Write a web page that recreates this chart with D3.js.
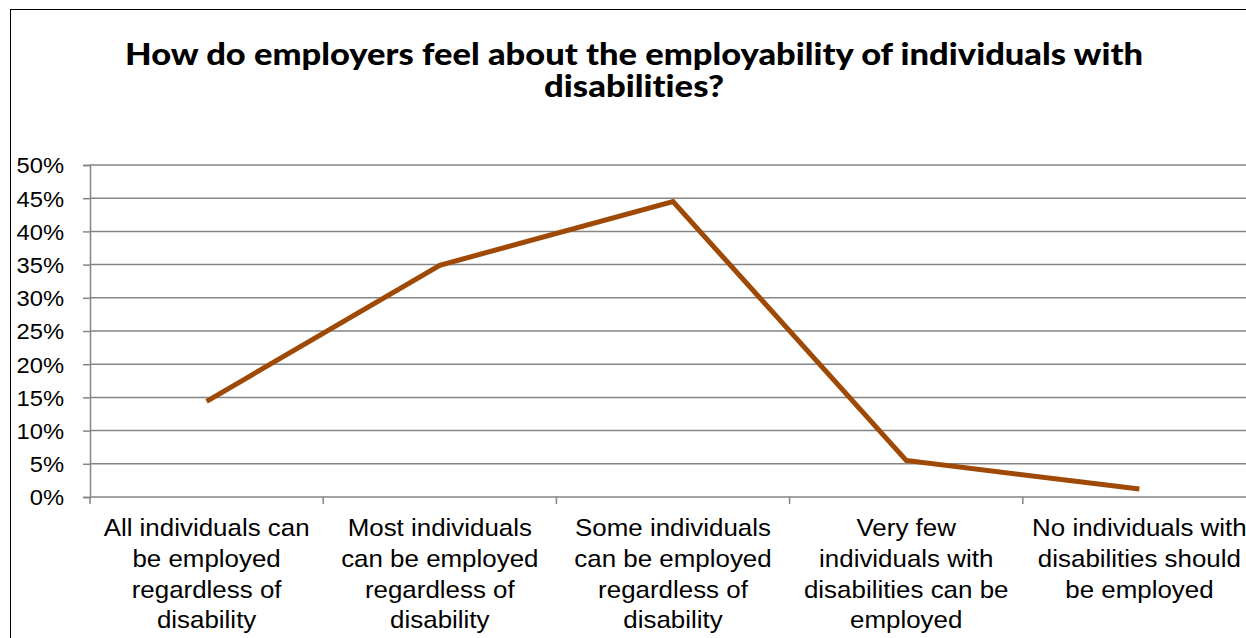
<!DOCTYPE html>
<html>
<head>
<meta charset="utf-8">
<script src="https://cdn.jsdelivr.net/npm/d3@7"></script>
<style>
  html, body { margin: 0; padding: 0; background: #fff; }
  svg { display: block; }
  text { font-variant-ligatures: none; }
</style>
</head>
<body>
<svg id="chart" width="1246" height="638"></svg>
<script>
// Survey answers (category labels, line breaks as displayed)
const categories = [
  "All individuals can\nbe employed\nregardless of\ndisability",
  "Most individuals\ncan be employed\nregardless of\ndisability",
  "Some individuals\ncan be employed\nregardless of\ndisability",
  "Very few\nindividuals with\ndisabilities can be\nemployed",
  "No individuals with\ndisabilities should\nbe employed"
];
// Share of employers choosing each answer (%)
const shares = [14.4, 34.9, 44.5, 5.5, 1.2];
const yTicks = [0, 5, 10, 15, 20, 25, 30, 35, 40, 45, 50];
const titleLines = [
  "How do employers feel about the employability of individuals with",
  "disabilities?"
];

const svg = d3.select("#chart");
const plot = { left: 90, right: 1256, top: 165, bottom: 497 };
const labelFont = "'Liberation Sans', Arial, sans-serif";
const stretch = 1.08;

// Chart frame
svg.append("rect")
  .attr("x", 10.5).attr("y", 9.5)
  .attr("width", 1400).attr("height", 800)
  .attr("fill", "#fff").attr("stroke", "#000").attr("stroke-width", 1);

// Title: one text block, one tspan per line
const titleWidths = [1018, 180];
const title = svg.append("text")
  .attr("text-anchor", "middle")
  .attr("font-family", "Lato, 'Open Sans', sans-serif")
  .attr("font-weight", 900)
  .attr("font-size", 30)
  .attr("fill", "#000");
titleLines.forEach((t, i) => {
  title.append("tspan")
    .attr("x", 634).attr("y", 65 + i * 32)
    .attr("textLength", titleWidths[i])
    .attr("lengthAdjust", "spacingAndGlyphs")
    .text(t);
});

// Scales
const x = d3.scaleBand()
  .domain(d3.range(categories.length))
  .range([plot.left, plot.right])
  .paddingInner(0).paddingOuter(0);
const y = d3.scaleLinear().domain([0, 50]).range([plot.bottom, plot.top]);
const gridColor = "#858585";

// Horizontal gridlines
svg.append("g").selectAll("line")
  .data(yTicks.filter(d => d > 0))
  .join("line")
  .attr("x1", plot.left).attr("x2", plot.right)
  .attr("y1", d => y(d)).attr("y2", d => y(d))
  .attr("stroke", gridColor).attr("stroke-width", 1.5);

// Y axis
const yAxis = svg.append("g")
  .attr("transform", `translate(${plot.left},0)`)
  .call(d3.axisLeft(y).tickValues(yTicks).tickSize(7).tickFormat(d => d + "%"));
yAxis.select(".domain").attr("stroke", gridColor).attr("stroke-width", 1.5);
yAxis.selectAll(".tick line").attr("stroke", gridColor).attr("stroke-width", 1.5);
yAxis.selectAll(".tick text").remove();
yAxis.selectAll(".tick").append("text")
  .attr("transform", `translate(-26,0) scale(${stretch},1)`)
  .attr("dy", "0.36em")
  .attr("text-anchor", "end")
  .attr("font-family", labelFont)
  .attr("font-size", 22)
  .attr("fill", "#000")
  .text(d => d + "%");

// X axis line and category boundary ticks
svg.append("line")
  .attr("x1", plot.left).attr("x2", plot.right)
  .attr("y1", plot.bottom).attr("y2", plot.bottom)
  .attr("stroke", gridColor).attr("stroke-width", 1.5);
const bounds = d3.range(categories.length + 1).map(i => i < categories.length ? x(i) : x(i - 1) + x.bandwidth());
svg.append("g").selectAll("line")
  .data(bounds)
  .join("line")
  .attr("x1", d => d).attr("x2", d => d)
  .attr("y1", plot.bottom).attr("y2", plot.bottom + 7)
  .attr("stroke", gridColor).attr("stroke-width", 1.5);

// Category labels
const catG = svg.append("g").selectAll("g")
  .data(categories)
  .join("g")
  .attr("transform", (d, i) => `translate(${x(i) + x.bandwidth() / 2},0)`);
catG.each(function (d) {
  const g = d3.select(this);
  d.split("\n").forEach((line, j) => {
    g.append("text")
      .attr("transform", `translate(0,${536 + j * 30.8}) scale(${stretch},1)`)
      .attr("text-anchor", "middle")
      .attr("font-family", labelFont)
      .attr("font-size", 24)
      .attr("fill", "#000")
      .text(line);
  });
});

// Data line
const line = d3.line()
  .x((d, i) => x(i) + x.bandwidth() / 2)
  .y(d => y(d));
svg.append("path")
  .datum(shares)
  .attr("d", line)
  .attr("fill", "none")
  .attr("stroke", "#9E4A06")
  .attr("stroke-width", 5)
  .attr("stroke-linejoin", "miter")
  .attr("stroke-linecap", "butt");
</script>
</body>
</html>
